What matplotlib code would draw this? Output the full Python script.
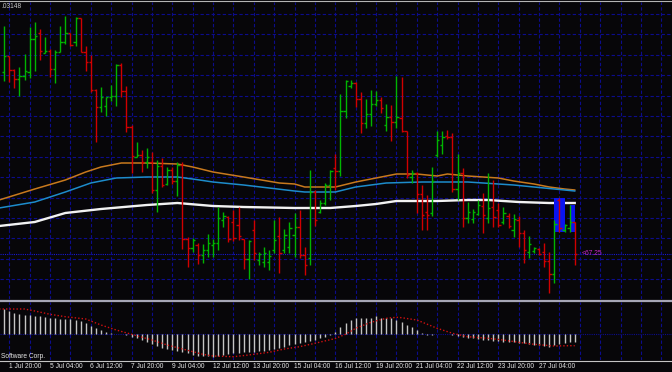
import numpy as np
import pandas as pd
import matplotlib
matplotlib.use('Agg')
import matplotlib.pyplot as plt
from matplotlib.collections import LineCollection
from matplotlib.lines import Line2D

# H4 bars, first one is 1 Jul 2010 16:00 (bar number -1), last one 27 Jul 20:00
bar_open = [69.07, 69.23, 69.09, 69.00, 69.03, 69.07, 69.40, 69.46, 69.26, 69.28,
            69.10, 69.27, 69.37, 69.46, 69.37, 69.61, 69.27, 69.17, 68.89, 68.72,
            68.73, 68.82, 68.83, 69.14, 68.88, 68.52, 68.22, 68.24, 68.17, 68.17,
            67.89, 68.13, 67.95, 68.09, 67.98, 68.14, 67.40, 67.31, 67.34, 67.24,
            67.29, 67.34, 67.36, 67.59, 67.62, 67.57, 67.54, 67.40, 67.20, 67.49,
            67.19, 67.17, 67.17, 67.29, 67.43, 67.29, 67.32, 67.44, 67.52, 67.24,
            67.21, 67.87, 67.67, 67.76, 67.94, 68.11, 68.08, 68.68, 68.93, 68.96,
            68.80, 68.56, 68.65, 68.75, 68.79, 68.54, 68.62, 68.57, 68.61, 68.48,
            68.02, 68.06, 67.85, 67.67, 67.66, 68.24, 68.34, 68.43, 68.42, 67.90,
            68.06, 67.61, 67.60, 67.65, 67.73, 67.61, 67.72, 67.69, 67.57, 67.63,
            67.49, 67.59, 67.46, 67.27, 67.28, 67.30, 67.27, 67.18, 67.05, 67.79,
            67.49, 67.51, 67.57]
bar_high = [69.53, 69.23, 69.10, 69.12, 69.25, 69.52, 69.57, 69.50, 69.42, 69.30,
            69.29, 69.53, 69.63, 69.46, 69.62, 69.61, 69.33, 69.24, 68.90, 68.92,
            68.82, 68.94, 69.15, 69.16, 68.93, 68.54, 68.37, 68.29, 68.31, 68.27,
            68.19, 68.21, 68.12, 68.12, 68.17, 68.17, 67.42, 67.41, 67.36, 67.35,
            67.45, 67.40, 67.72, 67.67, 67.63, 67.69, 67.72, 67.40, 67.39, 67.59,
            67.27, 67.32, 67.29, 67.59, 67.62, 67.50, 67.57, 67.66, 67.69, 67.32,
            68.09, 67.89, 67.79, 67.96, 68.09, 68.25, 68.85, 68.99, 68.99, 68.97,
            68.87, 68.80, 68.89, 68.88, 68.82, 68.75, 68.74, 69.03, 69.02, 68.48,
            68.09, 68.07, 67.94, 67.84, 68.12, 68.48, 68.48, 68.49, 68.46, 68.25,
            68.11, 67.77, 67.70, 67.79, 67.86, 68.06, 67.99, 67.76, 67.72, 67.66,
            67.65, 67.63, 67.49, 67.43, 67.32, 67.31, 67.36, 67.27, 67.59, 67.81,
            67.55, 67.74, 67.57]
bar_low = [68.98, 68.97, 68.91, 68.83, 68.99, 69.01, 69.08, 69.19, 69.26, 69.02,
           68.96, 69.27, 69.35, 69.33, 69.33, 69.27, 69.08, 68.87, 68.37, 68.67,
           68.63, 68.78, 68.73, 68.82, 68.47, 68.06, 68.22, 68.07, 68.11, 67.86,
           67.67, 67.92, 67.94, 67.95, 67.83, 67.30, 67.12, 67.27, 67.15, 67.16,
           67.22, 67.22, 67.29, 67.52, 67.37, 67.38, 67.39, 67.10, 67.00, 67.19,
           67.14, 67.12, 67.09, 67.26, 67.06, 67.26, 67.26, 67.22, 67.21, 67.04,
           67.14, 67.53, 67.66, 67.74, 67.79, 67.89, 68.03, 68.61, 68.91, 68.72,
           68.46, 68.51, 68.53, 68.73, 68.66, 68.48, 68.38, 68.51, 68.47, 68.01,
           67.96, 67.66, 67.49, 67.49, 67.63, 68.22, 68.25, 68.40, 67.87, 67.79,
           67.52, 67.56, 67.56, 67.64, 67.46, 67.56, 67.52, 67.52, 67.55, 67.51,
           67.42, 67.32, 67.16, 67.21, 67.26, 67.24, 67.12, 66.86, 66.96, 67.47,
           67.47, 67.47, 67.14]
bar_close = [69.23, 69.09, 69.00, 69.03, 69.08, 69.40, 69.43, 69.28, 69.28, 69.10,
             69.27, 69.37, 69.46, 69.34, 69.61, 69.27, 69.17, 68.89, 68.72, 68.82,
             68.82, 68.83, 69.14, 68.88, 68.52, 68.23, 68.24, 68.17, 68.22, 67.89,
             68.13, 67.94, 68.09, 67.98, 68.14, 67.40, 67.31, 67.39, 67.24, 67.29,
             67.36, 67.36, 67.61, 67.63, 67.40, 67.41, 67.43, 67.20, 67.38, 67.26,
             67.25, 67.26, 67.23, 67.39, 67.26, 67.44, 67.51, 67.52, 67.24, 67.14,
             67.87, 67.59, 67.76, 67.94, 68.08, 68.08, 68.68, 68.98, 68.96, 68.80,
             68.56, 68.65, 68.75, 68.79, 68.71, 68.62, 68.57, 68.62, 68.48, 68.04,
             68.06, 67.85, 67.64, 67.64, 67.98, 68.39, 68.42, 68.42, 67.90, 68.06,
             67.61, 67.67, 67.67, 67.74, 67.64, 67.71, 67.62, 67.54, 67.66, 67.53,
             67.60, 67.46, 67.29, 67.35, 67.31, 67.25, 67.18, 67.05, 67.55, 67.51,
             67.54, 67.57, 67.25]

# moving averages, read at some bars (bar number 0 = 1 Jul 20:00)
ma_fast_bars = [-2, 5, 11, 15, 18, 22, 27, 33, 36, 40, 46, 53, 56, 58, 61,
                64, 68, 72, 76, 80, 84, 86, 90, 93, 96, 99, 103, 106, 109, 111]
ma_fast = [67.79, 67.90, 67.99, 68.07, 68.12, 68.16, 68.16, 68.15, 68.12, 68.07,
           68.02, 67.96, 67.95, 67.92, 67.92, 67.92, 67.97, 68.01, 68.05, 68.05,
           68.03, 68.05, 68.03, 68.02, 68.01, 67.98, 67.95, 67.92, 67.90, 67.89]
ma_mid_bars = [-2, 5, 11, 16, 21, 27, 33, 36, 40, 46, 51, 56, 58, 64, 68,
               74, 81, 90, 93, 99, 105, 111]
ma_mid = [67.71, 67.77, 67.87, 67.96, 68.01, 68.02, 68.02, 68.00, 67.97, 67.94,
          67.91, 67.88, 67.87, 67.87, 67.92, 67.96, 67.97, 67.97, 67.96, 67.94,
          67.91, 67.88]
ma_slow_bars = [-2, 5, 11, 18, 27, 33, 40, 46, 56, 63, 68, 72, 76, 84, 90,
                94, 100, 106, 111]
ma_slow = [67.53, 67.57, 67.66, 67.70, 67.74, 67.76, 67.73, 67.72, 67.71, 67.71,
           67.73, 67.75, 67.78, 67.78, 67.79, 67.79, 67.77, 67.76, 67.76]

# blue boxes on the last bars
box_first = [107, 110]
box_last = [109, 111]
box_low = [67.47, 67.47]
box_high = [67.81, 67.74]

bid_price = 67.25

# MACD-style subwindow
macd_hist = [0.25, 0.23, 0.207, 0.20, 0.19, 0.187, 0.183, 0.18, 0.173, 0.163,
             0.157, 0.15, 0.147, 0.147, 0.14, 0.13, 0.107, 0.083, 0.057, 0.04,
             0.023, 0.013, 0.003, 0.0, -0.007, -0.027, -0.043, -0.06, -0.083, -0.103,
             -0.12, -0.137, -0.15, -0.16, -0.17, -0.183, -0.193, -0.21, -0.22, -0.223,
             -0.223, -0.227, -0.217, -0.21, -0.203, -0.193, -0.187, -0.18, -0.177, -0.177,
             -0.17, -0.167, -0.16, -0.15, -0.137, -0.127, -0.11, -0.097, -0.09, -0.077,
             -0.067, -0.057, -0.043, -0.027, -0.013, 0.017, 0.073, 0.107, 0.14, 0.157,
             0.163, 0.163, 0.163, 0.18, 0.163, 0.157, 0.157, 0.14, 0.123, 0.09,
             0.067, 0.04, 0.007, -0.01, -0.013, -0.003, -0.003, -0.003, -0.01, -0.017,
             -0.027, -0.037, -0.043, -0.053, -0.06, -0.06, -0.07, -0.07, -0.077, -0.083,
             -0.083, -0.093, -0.093, -0.103, -0.11, -0.11, -0.117, -0.127, -0.11, -0.103,
             -0.093, -0.083, -0.083]
signal_bars = [-2, 3, 5, 8, 11, 15, 18, 21, 24, 28, 31, 34, 38, 40, 44, 47, 51, 54, 57,
               60, 64, 66, 68, 71, 74, 76, 77, 80, 84, 87, 90, 94, 97, 100, 103, 107, 110, 111]
signal_vals = [0.25, 0.25, 0.23, 0.197, 0.173, 0.15, 0.09, 0.04, -0.003, -0.06,
               -0.11, -0.15, -0.203, -0.22, -0.227, -0.21, -0.183, -0.15, -0.127, -0.093,
               -0.045, -0.003, 0.057, 0.117, 0.157, 0.167, 0.163, 0.14, 0.057, 0.007,
               -0.027, -0.043, -0.06, -0.083, -0.103, -0.12, -0.117, -0.117]

# trading H4 time stamps for the time axis
stamps = pd.date_range('2010-06-28', '2010-08-10', freq='4h')
stamps = stamps[stamps.weekday < 5]
ref = stamps.get_loc(pd.Timestamp('2010-07-01 20:00'))

bg = '#070609'
grid_col = '#0c0c8c'
W, H = 672, 372
step = 5.094          # px per bar
x_left = -9.3 / step  # bar 0 sits 9.3 px from the left edge

fig = plt.figure(figsize=(W / 100, H / 100), dpi=100, facecolor=bg)


def px_axes(top, bottom):
    a = fig.add_axes([0, 1 - bottom / H, 1, (bottom - top) / H])
    a.set_facecolor(bg)
    a.set_xlim(x_left, x_left + W / step)
    for s in a.spines.values():
        s.set_visible(False)
    a.tick_params(length=0, labelbottom=False, labelleft=False)
    a.set_xticks(np.arange(0, 130, 4))
    a.grid(True, axis='x', color=grid_col, lw=0.8, ls=(0, (3, 2)))
    return a


ax = px_axes(2, 299)
ax.set_ylim((6979 - 299) / 100, (6979 - 2) / 100)
ax.set_yticks(66.997 + 0.204 * np.arange(14))
ax.grid(True, axis='y', color=grid_col, lw=0.8, ls=(0, (3, 2)))

sub = px_axes(302, 360)
sub.set_ylim(-0.26, 0.32)

n = len(bar_open)
k = np.arange(n) - 1
o, h, l, c = (np.array(v) for v in (bar_open, bar_high, bar_low, bar_close))

# moving averages
ax.plot(ma_fast_bars, ma_fast, color='#c8791d', lw=1.1, zorder=2)
ax.plot(ma_mid_bars, ma_mid, color='#1d8ccb', lw=1.1, zorder=2)
ax.plot(ma_slow_bars, ma_slow, color='#f2f2f2', lw=1.7, zorder=2)

# blue boxes
for a0, a1, lo, hi in zip(box_first, box_last, box_low, box_high):
    ax.bar((a0 + a1) / 2, hi - lo, bottom=lo, width=a1 - a0, color='#0a14f0', zorder=2.5)

# OHLC bars
segs, cols = [], []
for xi, oi, hi, li, ci in zip(k, o, h, l, c):
    col = '#00b400' if ci > oi else '#d00000'
    segs += [[(xi, li), (xi, hi)], [(xi - 0.45, oi), (xi, oi)], [(xi, ci), (xi + 0.45, ci)]]
    cols += [col] * 3
ax.add_collection(LineCollection(segs, colors=cols, linewidths=1.0, zorder=3))

# bid line and label
ax.axhline(bid_price, color='#1818d0', lw=0.8, ls=(0, (1, 1)), zorder=1.5)
ax.text(k[-1] + 1.3, bid_price, f'<{bid_price:.2f}', color='#c828c8',
        fontsize=4.8, family='Liberation Sans', va='center', ha='left')

# subwindow
sub.axhline(0, color=grid_col, lw=0.8, ls=(0, (1, 1)))
sub.vlines(k, 0, macd_hist, colors='#c4c4c4', lw=1.0, zorder=2)
sub.plot(signal_bars, signal_vals, color='#d01010', lw=1.0, ls=(0, (1, 1.5)), zorder=3)

# frame lines
fig.add_artist(Line2D([0, 1], [1 - 1 / H, 1 - 1 / H], color='#b4b4b4', lw=0.8))
fig.add_artist(Line2D([0, 1], [1 - 301 / H, 1 - 301 / H], color='#a6a6b6', lw=1.6))
fig.add_artist(Line2D([0, 1], [1 - 361 / H, 1 - 361 / H], color='#c4c4c4', lw=0.8))

txt = dict(color='#e6e6e6', fontsize=4.8, family='Liberation Sans')
fig.text(1 / W, 1 - 6 / H, '.03148', va='center', ha='left', **dict(txt, color='#c8c8c8'))
fig.text(1 / W, 1 - 356 / H, 'Software Corp.', va='center', ha='left', **txt)

# time labels every 8 bars
for kk in range(0, 105, 8):
    t = stamps[ref + kk]
    xpx = 9.3 + kk * step - 0.5
    fig.text(xpx / W, 1 - 366.5 / H, f'{t.day} {t:%b %H:%M}', va='center', ha='left', **txt)

fig.savefig('out.png', dpi=100, facecolor=bg)
